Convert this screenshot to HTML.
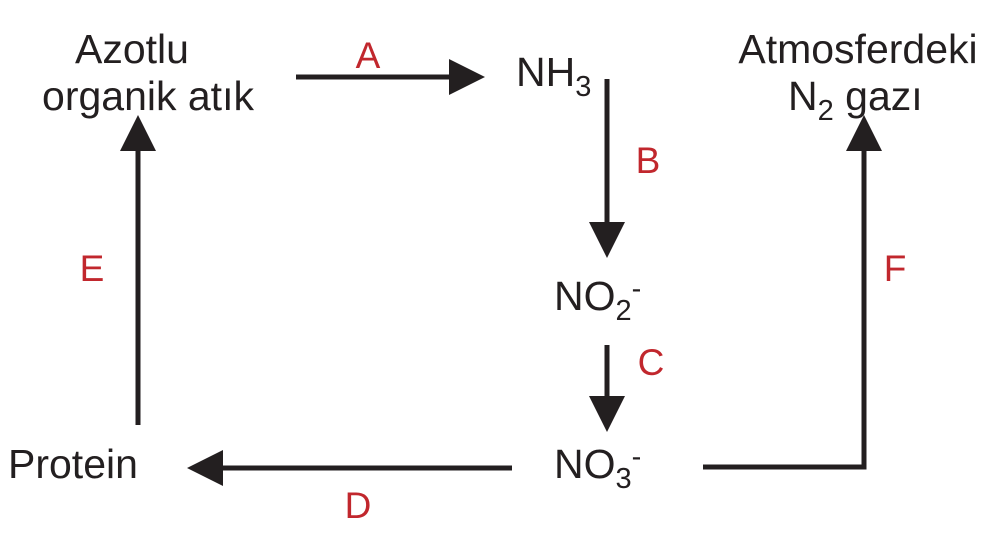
<!DOCTYPE html>
<html><head><style>body{margin:0;background:#fff}</style></head><body>
<svg width="987" height="536" xmlns="http://www.w3.org/2000/svg" font-family="Liberation Sans, Arial, sans-serif" font-size="41">
<rect width="987" height="536" fill="#fff"/>
<g fill="#231f20">
<text x="132" y="63" text-anchor="middle">Azotlu</text>
<text x="148" y="110" text-anchor="middle">organik atık</text>
<text x="516" y="86">NH<tspan font-size="29" dy="10">3</tspan></text>
<text x="554" y="310">NO<tspan font-size="29" dy="10">2</tspan><tspan font-size="29" dy="-22">-</tspan></text>
<text x="554" y="478">NO<tspan font-size="29" dy="10">3</tspan><tspan font-size="29" dy="-22">-</tspan></text>
<text x="8" y="478">Protein</text>
<text x="858" y="63" text-anchor="middle">Atmosferdeki</text>
<text x="788" y="110">N<tspan font-size="29" dy="10">2</tspan><tspan dy="-10"> gazı</tspan></text>
</g>
<g fill="#c1272d" font-size="37" text-anchor="middle">
<text x="368" y="68">A</text>
<text x="648" y="173">B</text>
<text x="651" y="375">C</text>
<text x="358" y="518">D</text>
<text x="92" y="281">E</text>
<text x="895" y="281">F</text>
</g>
<g stroke="#231f20" stroke-width="5" fill="none">
<line x1="296" y1="77" x2="455" y2="77"/>
<line x1="607" y1="79" x2="607" y2="225"/>
<line x1="607" y1="345" x2="607" y2="400"/>
<line x1="512" y1="468" x2="218" y2="468"/>
<line x1="138" y1="425" x2="138" y2="145"/>
<polyline points="703,467 864,467 864,145"/>
</g>
<g fill="#231f20">
<polygon points="485,77 449,59 449,95"/>
<polygon points="607,258 589,222 625,222"/>
<polygon points="607,432 589,396 625,396"/>
<polygon points="187,468 223,450 223,486"/>
<polygon points="138,115 120,151 156,151"/>
<polygon points="864,115 846,151 882,151"/>
</g>
</svg>
</body></html>
